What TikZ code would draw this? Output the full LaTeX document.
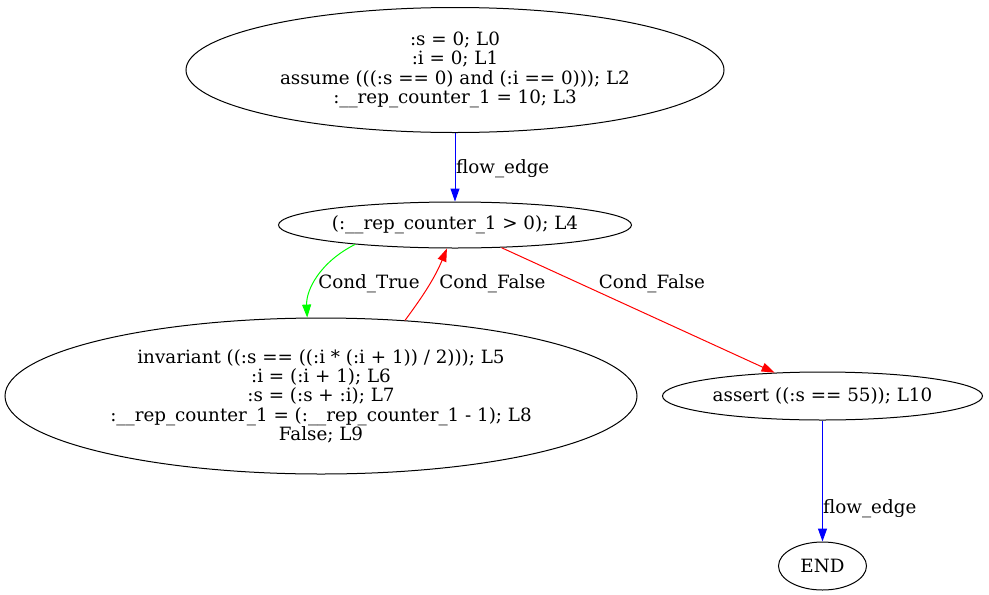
\documentclass[tikz,border=0pt]{standalone}
\usepackage{fontspec}
\setmainfont{DejaVu Serif}
\usetikzlibrary{shapes.geometric,arrows.meta}
\begin{document}
\begin{tikzpicture}[x=1pt,y=-1pt,
  every node/.style={font=\fontsize{18.3}{19.3}\selectfont},
  gvnode/.style={draw=black,line width=1pt,shape=ellipse,inner sep=0pt,align=center},
  edgelab/.style={inner sep=0pt},
  gvedge/.style={line width=1pt,-{Triangle[length=13pt,width=9pt]}},
  flowedge/.style={gvedge,draw=blue},
  trueedge/.style={gvedge,draw=green},
  falseedge/.style={gvedge,draw=red}]
\useasboundingbox (0,0) rectangle (989,595);
\node[gvnode,minimum width=538pt,minimum height=125pt] (n0) at (455,70)
  {:s = 0; L0\\:i = 0; L1\\assume (((:s == 0) and (:i == 0))); L2\\:\_\_rep\_counter\_1 = 10; L3};
\node[gvnode,minimum width=353pt,minimum height=46pt] (n4) at (455,225)
  {(:\_\_rep\_counter\_1 > 0); L4};
\node[gvnode,minimum width=632pt,minimum height=156pt] (n5) at (321,396)
  {invariant ((:s == ((:i * (:i + 1)) / 2))); L5\\:i = (:i + 1); L6\\:s = (:s + :i); L7\\:\_\_rep\_counter\_1 = (:\_\_rep\_counter\_1 - 1); L8\\False; L9};
\node[gvnode,minimum width=320pt,minimum height=48pt] (n10) at (822.5,396)
  {assert ((:s == 55)); L10};
\node[gvnode,minimum width=88pt,minimum height=48pt] (end) at (822.5,566) {END};
\draw[flowedge] (n0.south) -- (n4.north);
\node[edgelab,anchor=west] (l1) at (456,169) {flow\_edge};
\draw[trueedge] (n4.191.5) .. controls (320,262) and (306,290) .. (n5.100.9);
\node[edgelab] (l2) at (369,284) {Cond\_True};
\draw[falseedge] (n5.42.1) .. controls (420,300) and (434,280) .. (n4.251.2);
\node[edgelab] (l3) at (492.5,284) {Cond\_False};
\draw[falseedge] (n4.334.2) -- (n10.154.2);
\node[edgelab] (l4) at (652,284) {Cond\_False};
\draw[flowedge] (n10.south) -- (end.north);
\node[edgelab,anchor=west] (l5) at (823,509) {flow\_edge};
\end{tikzpicture}
\end{document}
